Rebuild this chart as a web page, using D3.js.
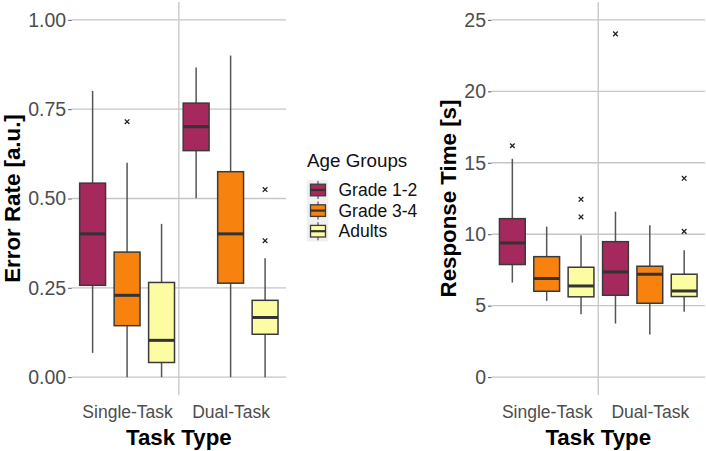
<!DOCTYPE html>
<html><head><meta charset="utf-8">
<script src="https://cdn.jsdelivr.net/npm/d3@7"></script>
<style>body{margin:0;background:#fff}svg{display:block;font-family:"Liberation Sans",Arial,sans-serif}</style>
</head><body><svg id="c" width="706" height="451"></svg>
<script>
const tasks = ["Single-Task", "Dual-Task"];
const groups = ["Grade 1-2", "Grade 3-4", "Adults"];
const colors = ["#A6295D", "#F7820E", "#FCFDA2"];

// order: Single (G12, G34, Adults), Dual (G12, G34, Adults)
const errLow = [0.068, 0.0, 0.0, 0.501, 0.0, 0.0];
const errQ1 = [0.257, 0.144, 0.041, 0.634, 0.263, 0.120];
const errMed = [0.401, 0.229, 0.103, 0.701, 0.401, 0.167];
const errQ3 = [0.543, 0.350, 0.265, 0.767, 0.575, 0.215];
const errHigh = [0.801, 0.600, 0.429, 0.867, 0.900, 0.333];
const errOut = [[], [0.715], [], [], [], [0.525, 0.382]];

const rtLow = [6.62, 5.34, 4.40, 3.75, 2.98, 4.57];
const rtQ1 = [7.88, 6.01, 5.62, 5.73, 5.17, 5.64];
const rtMed = [9.39, 6.90, 6.38, 7.36, 7.20, 6.03];
const rtQ3 = [11.09, 8.43, 7.69, 9.48, 7.76, 7.20];
const rtHigh = [15.28, 10.53, 9.93, 11.58, 10.62, 8.88];
const rtOut = [[16.19], [], [12.44, 11.21], [24.02], [], [13.91, 10.20]];

const errTicks = [0, 0.25, 0.5, 0.75, 1];
const rtTicks = [0, 5, 10, 15, 20, 25];

const svg = d3.select("#c");
const GRID = "#c6c6c6", TICKTXT = "#4d4d4d";

function panel(opt) {
  const x = d3.scaleLinear().domain([0.465, 2.535]).range([opt.x0, opt.x1]);
  const y = d3.scaleLinear().domain(opt.ydom).range([395, 2]);
  const g = svg.append("g");
  // gridlines
  g.selectAll("line.h").data(opt.ticks).enter().append("line")
    .attr("x1", opt.x0).attr("x2", opt.x1)
    .attr("y1", d => y(d)).attr("y2", d => y(d))
    .attr("stroke", GRID).attr("stroke-width", 1.3);
  g.append("line").attr("x1", x(1.5)).attr("x2", x(1.5)).attr("y1", 2).attr("y2", 395)
    .attr("stroke", GRID).attr("stroke-width", 1.3);
  // y axis
  const ax = d3.axisLeft(y).tickValues(opt.ticks).tickSize(3.5).tickPadding(2).tickFormat(opt.fmt);
  const ag = g.append("g").attr("transform", `translate(${opt.x0},0)`).call(ax);
  ag.select(".domain").remove();
  ag.selectAll(".tick line").attr("stroke", "#555").attr("stroke-width", 1);
  ag.selectAll(".tick text").attr("fill", TICKTXT).style("font-size", "19.5px")
    .style("font-family", "Liberation Sans, Arial, sans-serif");
  // x axis labels
  const xa = d3.axisBottom(x).tickValues([1, 2]).tickSize(0).tickFormat((d, i) => tasks[i]);
  const xg = g.append("g").attr("transform", `translate(0,${395})`).call(xa);
  xg.select(".domain").remove();
  xg.selectAll(".tick text").attr("fill", TICKTXT).style("font-size", "17.5px")
    .style("font-family", "Liberation Sans, Arial, sans-serif").attr("y", 0).attr("dy", 0)
    .attr("transform", "translate(0,23)");
  // titles
  g.append("text").attr("x", x(1.5)).attr("y", 445).attr("text-anchor", "middle")
    .style("font-size", "22.3px").style("font-weight", "bold").text("Task Type");
  g.append("text").attr("transform", `translate(${opt.ytx},198.5) rotate(-90)`)
    .attr("text-anchor", "middle").style("font-size", "22.3px").style("font-weight", "bold").text(opt.ytitle);
  // boxes
  const off = [-0.333, 0, 0.333], bw = 0.25;
  for (let t = 0; t < 2; t++) for (let k = 0; k < 3; k++) {
    const i = t * 3 + k;
    const cx = x(t + 1 + off[k]);
    const half = (x(bw) - x(0)) / 2;
    g.append("line").attr("x1", cx).attr("x2", cx).attr("y1", y(opt.hi[i])).attr("y2", y(opt.q3[i]))
      .attr("stroke", "#555").attr("stroke-width", 1.5);
    g.append("line").attr("x1", cx).attr("x2", cx).attr("y1", y(opt.q1[i])).attr("y2", y(opt.lo[i]))
      .attr("stroke", "#555").attr("stroke-width", 1.5);
    g.append("rect").attr("x", cx - half).attr("width", 2 * half)
      .attr("y", y(opt.q3[i])).attr("height", y(opt.q1[i]) - y(opt.q3[i]))
      .attr("fill", colors[k]).attr("stroke", "#3a3a3a").attr("stroke-width", 1.5);
    g.append("line").attr("x1", cx - half).attr("x2", cx + half).attr("y1", y(opt.med[i])).attr("y2", y(opt.med[i]))
      .attr("stroke", "#333").attr("stroke-width", 3);
    opt.out[i].forEach(v => {
      const yy = y(v), s = 2.3;
      g.append("path").attr("d", `M${cx - s},${yy - s}L${cx + s},${yy + s}M${cx - s},${yy + s}L${cx + s},${yy - s}`)
        .attr("stroke", "#222").attr("stroke-width", 1.3);
    });
  }
}

panel({x0: 71.7, x1: 286, ydom: [-0.05, 1.05], ticks: errTicks, fmt: d3.format(".2f"),
  lo: errLow, q1: errQ1, med: errMed, q3: errQ3, hi: errHigh, out: errOut,
  ytitle: "Error Rate [a.u.]", ytx: 19.5});
panel({x0: 491.5, x1: 705, ydom: [-1.25, 26.25], ticks: rtTicks, fmt: d3.format("d"),
  lo: rtLow, q1: rtQ1, med: rtMed, q3: rtQ3, hi: rtHigh, out: rtOut,
  ytitle: "Response Time [s]", ytx: 456});

// legend
const lg = svg.append("g");
lg.append("text").attr("x", 307).attr("y", 166.5).style("font-size", "18.8px").attr("fill", "#111").text("Age Groups");
groups.forEach((name, k) => {
  const cy = 190 + k * 20.6;
  lg.append("rect").attr("x", 306.7).attr("y", cy - 10.3).attr("width", 21.6).attr("height", 20.6).attr("fill", "#f0f0f0");
  lg.append("line").attr("x1", 318).attr("x2", 318).attr("y1", cy - 9).attr("y2", cy + 9).attr("stroke", "#555").attr("stroke-width", 1.2);
  lg.append("rect").attr("x", 310.5).attr("y", cy - 5.8).attr("width", 15).attr("height", 11.6)
    .attr("fill", colors[k]).attr("stroke", "#3a3a3a").attr("stroke-width", 1.3);
  lg.append("line").attr("x1", 310.5).attr("x2", 325.5).attr("y1", cy).attr("y2", cy).attr("stroke", "#333").attr("stroke-width", 2.2);
  lg.append("text").attr("x", 338.5).attr("y", cy + 6).style("font-size", "17.5px").attr("fill", "#111").text(name);
});
</script></body></html>
